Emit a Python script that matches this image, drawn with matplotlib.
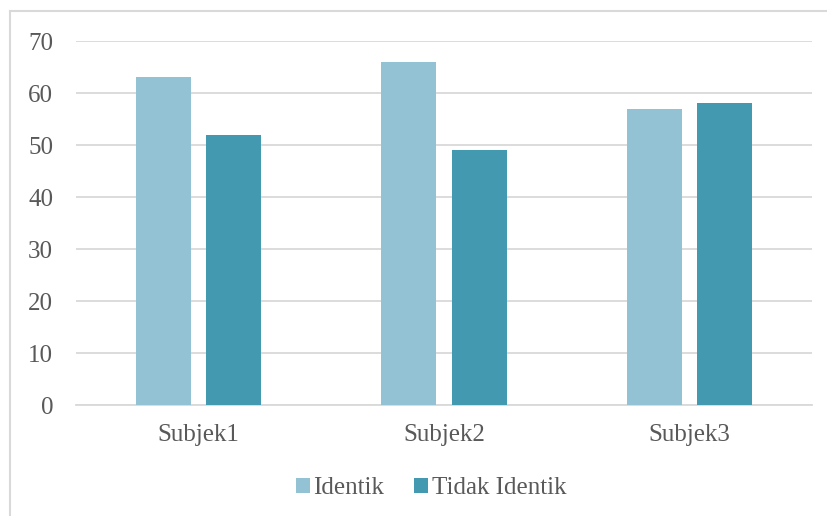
import numpy as np
import matplotlib.pyplot as plt
from matplotlib.lines import Line2D

# data
categories = ["Subjek1", "Subjek2", "Subjek3"]
identik = [63, 66, 57]
tidak_identik = [52, 49, 58]
series_names = ["Identik", "Tidak Identik"]
yticks = [0, 10, 20, 30, 40, 50, 60, 70]

LIGHT = "#93C2D4"
DARK = "#4299B0"
TEXT = "#595959"
GRID = "#D9D9D9"

plt.rcParams['font.family'] = ['Liberation Serif', 'DejaVu Serif']

fig = plt.figure(figsize=(8.27, 5.16), dpi=100)
ax = fig.add_axes([76 / 827, 1 - 405 / 516, 736 / 827, 364 / 516])

x = np.arange(len(categories))
w = 0.224
off = 0.143
ax.bar(x - off, identik, w, color=LIGHT, label=series_names[0], zorder=3)
ax.bar(x + off, tidak_identik, w, color=DARK, label=series_names[1], zorder=3)

ax.set_xlim(-0.5, len(categories) - 0.5)
ax.set_ylim(0, 70)
ax.set_yticks(yticks)
ax.yaxis.grid(True, color=GRID, linewidth=1.3, zorder=0)
for s in ax.spines.values():
    s.set_visible(False)
ax.spines['bottom'].set_visible(True)
ax.spines['bottom'].set_color(GRID)
ax.spines['bottom'].set_linewidth(1.3)
ax.tick_params(axis='both', length=0, labelsize=18, labelcolor=TEXT)
ax.tick_params(axis='y', pad=16.5)
ax.tick_params(axis='x', pad=14)
ax.set_xticks(x)
ax.set_xticklabels(categories)

leg = fig.legend(loc='center', bbox_to_anchor=(431 / 827, 1 - 488 / 516), ncol=2,
                 frameon=False, fontsize=18, handlelength=0.55, handleheight=0.55,
                 handletextpad=0.15, columnspacing=1.2)
for t in leg.get_texts():
    t.set_color(TEXT)

# chart area border (left and top visible)
fig.add_artist(Line2D([10 / 827, 10 / 827], [0, 1 - 11 / 516], color=GRID, lw=1.5))
fig.add_artist(Line2D([10 / 827, 1], [1 - 11 / 516, 1 - 11 / 516], color=GRID, lw=1.5))

fig.savefig("out.png", dpi=100)
